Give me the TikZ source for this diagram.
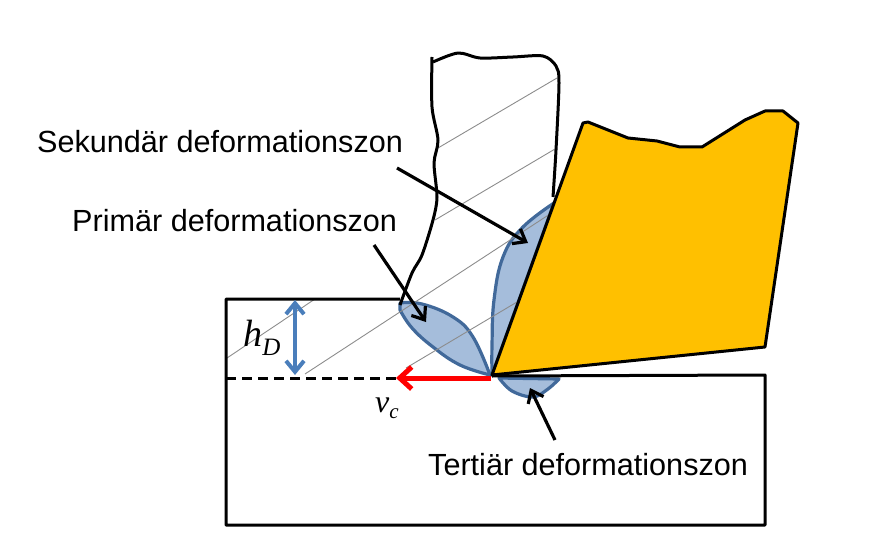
\documentclass[tikz,border=0pt]{standalone}
\usepackage{fontspec}
\setmainfont{Liberation Sans}
\newfontfamily\timesfont{Liberation Serif}
\usetikzlibrary{arrows.meta,calc,positioning}
\definecolor{zonefill}{HTML}{A5BDDB}
\definecolor{zoneline}{HTML}{41699A}
\definecolor{toolfill}{HTML}{FFC000}
\definecolor{dimblue}{HTML}{4A7EBB}
\tikzset{
  outline/.style={black,line width=3pt,line join=round},
  zone/.style={draw=zoneline,fill=zonefill,line width=3.2pt,line join=round},
  hatchline/.style={gray!90,line width=0.9pt},
  pointer/.style={black,line width=3.2pt,-{Straight Barb[length=11pt,width=17pt,line width=3.2pt]}},
  zonelabel/.style={font=\fontsize{30.6}{32}\selectfont,anchor=west,inner sep=0pt}
}
\begin{document}
\begin{tikzpicture}[x=1pt,y=-1pt]
  \useasboundingbox (0,0) rectangle (878,559);

  % zones
  \draw[zone] plot[smooth,tension=0.7] coordinates {(400,303) (422,304) (453,317) (473,337) (490,375)}
    -- plot[smooth,tension=0.7] coordinates {(490,375) (460,365) (433,347) (412,328) (400,310)} -- cycle;
  \draw[zone] (554,203) -- (492,375) -- plot[smooth,tension=0.7] coordinates {(492,375) (492,345) (494,300) (503,257) (522,228) (554,203)} -- cycle;
  \draw[zone] plot[smooth,tension=0.6] coordinates {(499,378) (512,391) (533,397) (548,389) (559,379)} -- cycle;

  % hatching
  \draw[hatchline] (557,78) -- (438,148);
  \draw[hatchline] (555,149) -- (435,220);
  \draw[hatchline] (553,212) -- (305,374);
  \draw[hatchline] (517,302) -- (406,368);
  \draw[hatchline] (315,299) -- (227,358);

  % workpiece
  \draw[outline] (400,299) -- (226,299) -- (226,525) -- (765,525) -- (765,375) -- (492,376);
  \draw[outline,dash pattern=on 10pt off 6pt] (226,378) -- (396,378);

  % chip
  \draw[outline] plot[smooth,tension=0.5] coordinates {(432,57) (432,107) (438,140) (434,163) (437,197) (433,220) (422,255) (412,273) (400,305)};
  \draw[outline] plot[smooth,tension=0.5] coordinates {(433,62) (458,53) (480,58) (513,57) (543,56) (556,66) (559,83) (556,150) (553,197)};

  % tool
  \draw[outline,fill=toolfill] (492,375) -- (583,123) -- (588,122) -- (628,138) -- (657,141) -- (680,147) -- (702,147)
    -- (745,120) -- (765,111) -- (783,111) -- (798,123) -- (765,347) -- cycle;

  % labels
  \node[zonelabel] (sekundar) at (37,142) {Sekundär deformationszon};
  \node[zonelabel] (primar) at (72,221) {Primär deformationszon};
  \node[zonelabel] (tertiar) at (428,465) {Tertiär deformationszon};
  \node[inner sep=0pt,font=\timesfont\itshape\fontsize{38}{38}\selectfont] (hd) at (262,338) {h\raisebox{-9pt}{\fontsize{25}{25}\selectfont D}};
  \node[inner sep=0pt,font=\timesfont\itshape\fontsize{32}{32}\selectfont] (vc) at (387,408) {v\raisebox{-6pt}{\fontsize{21}{21}\selectfont c}};

  % arrows
  \coordinate (sekstart) at (397,168);
  \coordinate (sekend) at (528,243);
  \coordinate (prstart) at (374,245);
  \coordinate (prend) at (426,322);
  \coordinate (testart) at (555,440);
  \coordinate (teend) at (530,388);
  \coordinate (cuttop) at (295,300);
  \coordinate (cutbot) at (295,375);
  \coordinate (vstart) at (491,378);
  \coordinate (vend) at (396,378);
  \draw[pointer] (sekstart) -- (sekend);
  \draw[pointer] (prstart) -- (prend);
  \draw[pointer] (testart) -- (teend);
  \draw[dimblue,line width=4pt,{Straight Barb[length=11pt,width=18pt,line width=4pt]}-{Straight Barb[length=11pt,width=18pt,line width=4pt]}] (cuttop) -- (cutbot);
  \draw[red,line width=5pt,-{Straight Barb[length=12pt,width=22pt,line width=5pt]}] (vstart) -- (vend);
\end{tikzpicture}
\end{document}
